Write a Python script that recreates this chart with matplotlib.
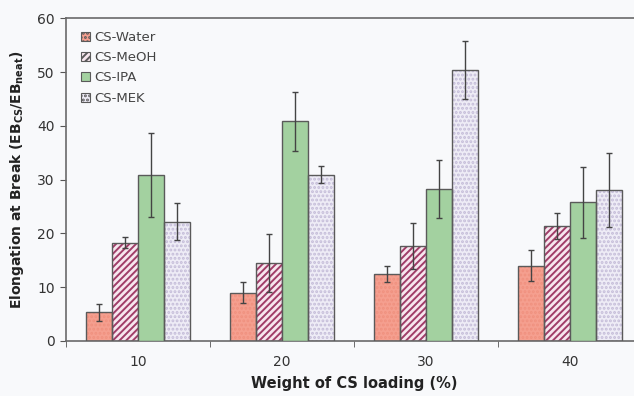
import matplotlib
matplotlib.use("Agg")
import matplotlib.pyplot as plt
import numpy as np
from matplotlib.patches import Patch

loadings = ["10", "20", "30", "40"]
series = ["CS-Water", "CS-MeOH", "CS-IPA", "CS-MEK"]
water = [5.3, 9.0, 12.4, 14.0]
meoh = [18.3, 14.5, 17.7, 21.4]
ipa = [30.9, 40.8, 28.2, 25.8]
mek = [22.2, 30.9, 50.4, 28.1]
water_err = [1.6, 2.0, 1.5, 2.9]
meoh_err = [1.1, 5.4, 4.3, 2.4]
ipa_err = [7.8, 5.4, 5.4, 6.6]
mek_err = [3.5, 1.6, 5.4, 6.9]

values = [water, meoh, ipa, mek]
errors = [water_err, meoh_err, ipa_err, mek_err]
faces = ["#f59f8f", "#f7e6ee", "#a3d1a0", "#eeecf6"]
hatches = ["....", "/////", None, "...."]
hatch_cols = ["#f0917f", "#a03d68", None, "#c4bcd8"]
edge = "#5a5a5a"
bg = "#f8f9fb"

plt.rcParams["hatch.linewidth"] = 1.4

fig = plt.figure(figsize=(6.34, 3.96), dpi=100, facecolor=bg)
ax = fig.add_axes([0.104, 0.139, 0.9085, 0.815], facecolor=bg)

x = np.arange(len(loadings))
w = 0.182
offsets = (np.arange(4) - 1.5) * w
for i in range(4):
    xs = x + offsets[i]
    if hatches[i]:
        ax.bar(xs, values[i], w, color=faces[i], edgecolor=hatch_cols[i],
               hatch=hatches[i], linewidth=0, zorder=2)
        ax.bar(xs, values[i], w, fill=False, edgecolor=edge, linewidth=1.0, zorder=3)
    else:
        ax.bar(xs, values[i], w, color=faces[i], edgecolor=edge, linewidth=1.0, zorder=3)
    ax.errorbar(xs, values[i], yerr=errors[i], fmt="none", ecolor="#444444",
                elinewidth=1.0, capsize=2.5, capthick=1.0, zorder=4)

ax.set_xlim(-0.5, 3.5)
ax.set_ylim(0, 60)
ax.set_yticks(range(0, 61, 10))
ax.set_xticks(x)
ax.set_xticklabels(loadings)
ax.set_xticks(np.arange(-0.5, 4.0, 1.0), minor=True)
ax.tick_params(axis="x", which="major", length=0, pad=10, labelsize=10, labelcolor="#333333")
ax.tick_params(axis="x", which="minor", length=4, direction="out", color="#555555")
ax.tick_params(axis="y", length=4, direction="out", color="#555555", labelsize=10,
               labelcolor="#333333", pad=4)
for s in ax.spines.values():
    s.set_color("#6a6a6a")
    s.set_linewidth(1.2)

ax.set_xlabel("Weight of CS loading (%)", fontsize=10.5, fontweight="bold",
              color="#222222", labelpad=5)
ax.set_ylabel(r"Elongation at Break (EB$_{\mathbf{CS}}$/EB$_{\mathbf{neat}}$)", fontsize=10,
              fontweight="bold", color="#222222", labelpad=8)

handles = []
for i in range(4):
    handles.append(Patch(facecolor=faces[i], edgecolor=edge, hatch=hatches[i], linewidth=0.8))
leg = ax.legend(handles, series, loc="upper left", bbox_to_anchor=(0.012, 0.985),
                frameon=False, fontsize=9.5, handlelength=0.7, handleheight=0.7,
                handletextpad=0.3, labelspacing=0.55, borderaxespad=0.2)
for t in leg.get_texts():
    t.set_color("#444444")

fig.savefig("out.png", dpi=100, facecolor=bg)
